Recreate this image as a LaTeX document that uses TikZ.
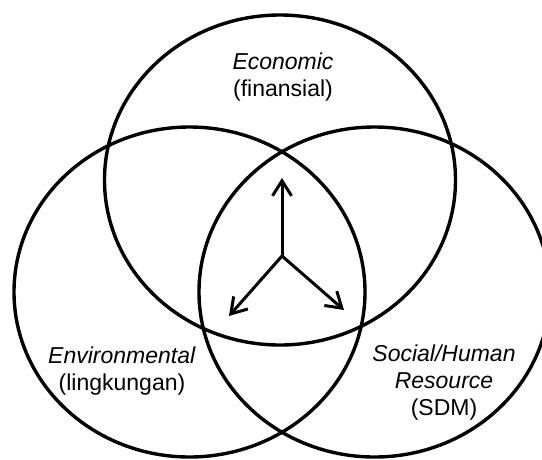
\documentclass[tikz,border=0pt]{standalone}
\usepackage{fontspec}
\setmainfont{Liberation Sans}
\usetikzlibrary{arrows.meta}
\begin{document}
\begin{tikzpicture}[x=1pt,y=-1pt,
  ring/.style={line width=3.4pt},
  flow/.style={line width=3pt, line cap=round,
    -{Straight Barb[length=15pt,width=19pt,line width=3pt]}},
  lbl/.style={align=center, font=\fontsize{23}{27}\selectfont, inner sep=0pt}]
\useasboundingbox (0,0) rectangle (542,459);
% the three overlapping areas
\draw[ring] (280,180) ellipse [x radius=175.5, y radius=165];
\draw[ring] (189.5,292) ellipse [x radius=175.5, y radius=165];
\draw[ring] (374.5,292) ellipse [x radius=175.5, y radius=165];
% arrows radiating from the common centre
\coordinate (hub) at (282,256);
\coordinate (tipUp) at (282,178);
\coordinate (tipLeft) at (229,316);
\coordinate (tipRight) at (344,310);
\draw[flow] (hub) -- (tipUp);
\draw[flow] (hub) -- (tipLeft);
\draw[flow] (hub) -- (tipRight);
% labels (anchored at the baseline of their last line)
\node[lbl, anchor=base] (eco) at (283,96) {\textit{Economic}\\(finansial)};
\node[lbl, anchor=base] (env) at (122,390) {\textit{Environmental}\\(lingkungan)};
\node[lbl, anchor=base] (soc) at (444,415) {\textit{Social/Human}\\\textit{Resource}\\(SDM)};
\end{tikzpicture}
\end{document}
